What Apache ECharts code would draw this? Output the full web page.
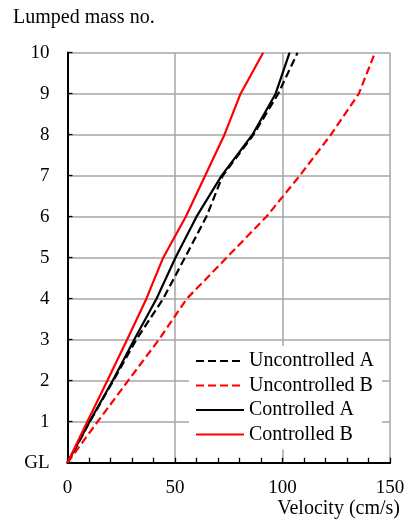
<!DOCTYPE html>
<html>
<head>
<meta charset="utf-8">
<script src="https://cdn.jsdelivr.net/npm/echarts@6/dist/echarts.min.js"></script>
<style>
  html, body { margin: 0; padding: 0; background: #fff; }
  #chart { width: 408px; height: 523px; }
</style>
</head>
<body>
<div id="chart"></div>
<script>
// Peak response velocity of each lumped mass (GL = ground level)
const levels = [0, 1, 2, 3, 4, 5, 6, 7, 8, 9, 10];
const levelLabels = ['GL', '1', '2', '3', '4', '5', '6', '7', '8', '9', '10'];

const uncontrolledA = [0, 10.4, 21.3, 32, 44.5, 54.6, 64.6, 72.2, 86.5, 98, 107];
const uncontrolledB = [0, 14, 28.2, 42.5, 55.5, 74, 92.5, 108, 122.5, 135.5, 143];
const controlledA   = [0, 10.2, 21, 31, 41.4, 50.2, 60, 71.7, 86, 96.8, 103.3];
const controlledB   = [0, 9.2, 18.5, 27.7, 36.7, 44.5, 55, 64, 73, 80.5, 91];

const velocityTicks = [0, 50, 100, 150];

const FONT = '"Liberation Serif", "Times New Roman", serif';

function pairs(vals) {
  return vals.map((v, i) => [v, levels[i]]);
}

function lineSeries(name, vals, color, dashed) {
  return {
    name: name,
    type: 'line',
    data: pairs(vals),
    symbol: 'none',
    smooth: false,
    lineStyle: { color: color, width: 2.2, type: dashed ? [8, 4] : 'solid' },
    itemStyle: { color: color },
    z: 5
  };
}

const chart = echarts.init(document.getElementById('chart'));
chart.setOption({
  animation: false,
  backgroundColor: '#fff',
  title: [
    { text: 'Lumped mass no.', left: 8, top: 3,
      textStyle: { fontFamily: FONT, fontSize: 20, fontWeight: 'normal', color: '#000' } },
    { text: 'Velocity (cm/s)', right: 3, top: 494,
      textStyle: { fontFamily: FONT, fontSize: 20, fontWeight: 'normal', color: '#000' } }
  ],
  grid: { left: 67.5, right: 18, top: 52.7, bottom: 60.3 },
  xAxis: [{
    type: 'value',
    min: velocityTicks[0],
    max: velocityTicks[velocityTicks.length - 1],
    interval: 50,
    axisLine: { show: true, lineStyle: { color: '#000', width: 2 } },
    axisTick: { show: true, inside: true, length: 5, lineStyle: { color: '#000', width: 1.3 } },
    minorTick: { show: true, splitNumber: 5, length: 5, lineStyle: { color: '#000', width: 1.3 } },
    splitLine: { show: true, lineStyle: { color: '#a6a6a6', width: 1.5 } },
    axisLabel: { fontFamily: FONT, fontSize: 19, color: '#000', margin: 16 }
  }, {
    type: 'value', position: 'top',
    min: 0, max: 150, interval: 50,
    axisLine: { show: true, lineStyle: { color: '#000', width: 2 } },
    axisTick: { show: false }, axisLabel: { show: false }, splitLine: { show: false }
  }],
  yAxis: [{
    type: 'value',
    min: 0, max: 10, interval: 1,
    axisLine: { show: true, lineStyle: { color: '#000', width: 2 } },
    axisTick: { show: true, inside: true, length: 5, lineStyle: { color: '#000', width: 1.3 } },
    splitLine: { show: true, lineStyle: { color: '#a6a6a6', width: 1.5 } },
    axisLabel: {
      fontFamily: FONT, fontSize: 19, color: '#000', margin: 18,
      formatter: v => levelLabels[levels.indexOf(v)]
    }
  }, {
    type: 'value', position: 'right',
    min: 0, max: 10, interval: 1,
    axisLine: { show: true, lineStyle: { color: '#000', width: 2 } },
    axisTick: { show: false }, axisLabel: { show: false }, splitLine: { show: false }
  }],
  legend: {
    orient: 'vertical',
    left: 189, top: 346,
    padding: [5, 8, 5, 6],
    backgroundColor: '#fff',
    itemWidth: 48, itemHeight: 14, itemGap: 4.5,
    itemStyle: { opacity: 0 },
    textStyle: { fontFamily: FONT, fontSize: 20, color: '#000', lineHeight: 20, padding: [0, 0, 0, 0] },
    data: ['Uncontrolled A', 'Uncontrolled B', 'Controlled A', 'Controlled B'],
    z: 10
  },
  series: [
    lineSeries('Uncontrolled A', uncontrolledA, '#000000', true),
    lineSeries('Uncontrolled B', uncontrolledB, '#ff0000', true),
    lineSeries('Controlled A', controlledA, '#000000', false),
    lineSeries('Controlled B', controlledB, '#ff0000', false)
  ]
});
</script>
</body>
</html>
